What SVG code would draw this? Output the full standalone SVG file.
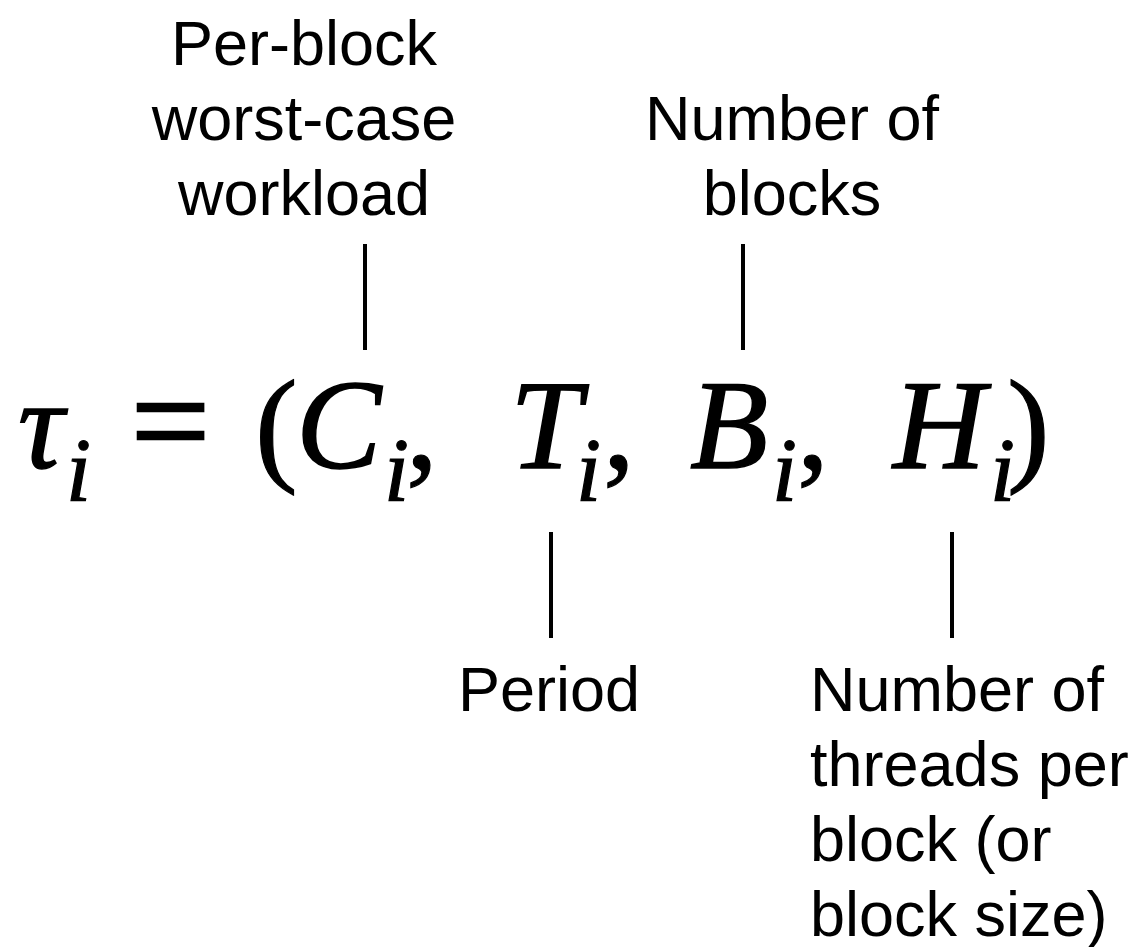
<svg xmlns="http://www.w3.org/2000/svg" width="1145" height="947" viewBox="0 0 1145 947">
<style>
.lbl{font-family:"Liberation Sans",Arial,sans-serif;font-size:63px;fill:#000}
.m{font-family:"Liberation Serif","Times New Roman",serif;font-size:128px;fill:#000;stroke:#000;stroke-width:1.2}
.mi{font-family:"Liberation Serif","Times New Roman",serif;font-style:italic;font-size:128px;fill:#000;stroke:#000;stroke-width:1.5}
.sub{font-family:"Liberation Serif","Times New Roman",serif;font-style:italic;font-size:90px;fill:#000;stroke:#000;stroke-width:1.2}
.ln{stroke:#000;stroke-width:4;fill:none}
</style>
<rect width="1145" height="947" fill="#fff"/>
<g id="formula">
<text class="mi" x="18" y="468">τ</text>
<text class="sub" x="66" y="501">i</text>
<text class="m" x="131" y="468" style="font-size:140px;stroke-width:2.5">=</text>
<text class="m" x="255" y="468">(</text>
<text class="mi" x="296" y="468">C</text>
<text class="sub" x="384" y="501">i</text>
<text class="m" x="406" y="468">,</text>
<text class="mi" x="510" y="468">T</text>
<text class="sub" x="576" y="501">i</text>
<text class="m" x="603" y="468">,</text>
<text class="mi" x="690" y="468">B</text>
<text class="sub" x="772" y="501">i</text>
<text class="m" x="797" y="468">,</text>
<text class="mi" x="893" y="468">H</text>
<text class="sub" x="990" y="501">i</text>
<text class="m" x="1007" y="468">)</text>
</g>
<g id="label-workload">
<text class="lbl" text-anchor="middle" x="304" y="65">Per-block</text>
<text class="lbl" text-anchor="middle" x="304" y="140">worst-case</text>
<text class="lbl" text-anchor="middle" x="304" y="215">workload</text>
</g>
<g id="label-blocks">
<text class="lbl" text-anchor="middle" x="792" y="140">Number of</text>
<text class="lbl" text-anchor="middle" x="792" y="215">blocks</text>
</g>
<g id="label-period">
<text class="lbl" text-anchor="middle" x="549" y="711">Period</text>
</g>
<g id="label-threads">
<text class="lbl" x="810" y="711">Number of</text>
<text class="lbl" x="810" y="786">threads per</text>
<text class="lbl" x="810" y="861">block (or</text>
<text class="lbl" x="810" y="936">block size)</text>
</g>
<g id="connectors">
<line class="ln" x1="365" y1="244" x2="365" y2="350"/>
<line class="ln" x1="743" y1="244" x2="743" y2="350"/>
<line class="ln" x1="551" y1="532" x2="551" y2="638"/>
<line class="ln" x1="952" y1="532" x2="952" y2="638"/>
</g>
</svg>
